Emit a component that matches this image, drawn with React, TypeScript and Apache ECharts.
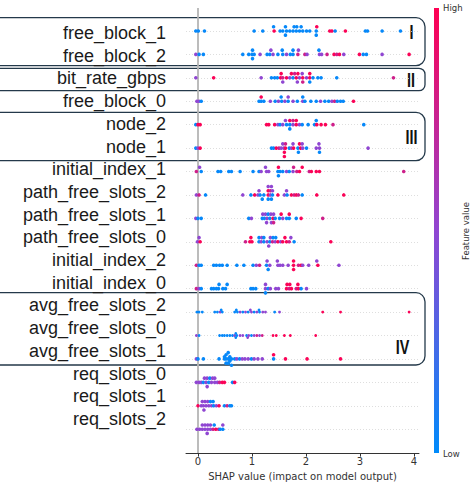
import React, { useEffect, useRef } from "react";
import * as echarts from "echarts";

// ---- data -------------------------------------------------------------
const features = [
  "free_block_1", "free_block_2", "bit_rate_gbps", "free_block_0", "node_2", "node_1",
  "initial_index_1", "path_free_slots_2", "path_free_slots_1", "path_free_slots_0",
  "initial_index_2", "initial_index_0", "avg_free_slots_2", "avg_free_slots_0",
  "avg_free_slots_1", "req_slots_0", "req_slots_1", "req_slots_2",
];
const xTicks = [0, 1, 2, 3, 4];
const numerals = ["I", "II", "III", "IV"];

// feature value codes (0 = low / blue, 1 = high / red)
const B = 0.02, P = 0.5, M = 0.78, R = 0.98;

// [shap value, swarm lane, feature value]
const freeBlock1 = [[-0.04,0,B],[0.006,0,B],[0.12,0,B],[1.04,0,B],[1.2,0,B],[1.41,0,R],[1.52,0,B],[1.57,0,B],[1.64,0,B],[1.7,0,B],[1.76,0,B],[1.82,0,B],[1.88,0,B],[1.94,0,B],[2.01,0,B],[2.07,0,B],[2.19,0,B],[2.44,0,R],[2.48,0,R],[2.54,0,B],[2.73,0,R],[3.1,0,B],[3.14,0,B],[3.41,0,B],[3.75,0,B],
  [1.4,-1,B],[1.62,-1,B],[1.78,-1,B],[1.83,-1,B],[1.91,-1,B],[2.2,-1,R],[1.62,1,B],[2.19,1,B]];
const freeBlock2 = [[-0.04,0,P],[0.02,0,B],[0.1,0,B],[0.83,0,B],[0.94,0,B],[1.0,0,B],[1.04,0,B],[1.15,0,P],[1.28,0,B],[1.33,0,B],[1.39,0,P],[1.48,0,B],[1.57,0,B],[1.64,0,P],[1.71,0,B],[1.76,0,B],[1.85,0,M],[1.98,0,M],[2.02,0,P],[2.25,0,P],[2.29,0,P],[2.39,0,M],[2.52,0,R],[2.57,0,M],[2.62,0,R],[2.7,0,P],[2.99,0,R],[3.06,0,B],[3.12,0,B],[3.41,0,P],[3.91,0,R],
  [1.01,-1,B],[1.35,-1,P],[1.56,-1,B],[1.76,-1,B],[1.86,-1,P],[2.24,-1,B],[1.01,1,B]];
const bitRateGbps = [[-0.04,0,P],[0.29,0,R],[1.17,0,P],[1.36,0,B],[1.42,0,B],[1.47,0,B],[1.53,0,R],[1.57,0,M],[1.64,0,R],[1.7,0,P],[1.76,0,B],[1.82,0,R],[1.88,0,P],[1.94,0,R],[2.01,0,P],[2.07,0,R],[2.13,0,B],[2.22,0,B],[2.28,0,B],[2.57,0,B],[3.62,0,M],
  [1.54,-1,R],[1.73,-1,R],[1.79,-1,M],[1.85,-1,R],[1.93,-1,P],[2.07,-1,R],[1.57,1,P],[1.84,1,P],[1.94,1,M],[2.07,1,B]];
const freeBlock0 = [[-0.02,0,P],[0.02,0,P],[0.06,0,B],[1.13,0,B],[1.17,0,B],[1.22,0,B],[1.34,0,P],[1.43,0,B],[1.49,0,P],[1.55,0,B],[1.61,0,P],[1.67,0,B],[1.76,0,P],[1.84,0,B],[1.94,0,P],[1.98,0,B],[2.09,0,B],[2.19,0,B],[2.27,0,P],[2.35,0,B],[2.42,0,B],[2.48,0,P],[2.53,0,M],[2.58,0,B],[2.64,0,B],[2.69,0,B],[2.88,0,R],
  [1.17,-1,R],[1.54,-1,B],[1.67,-1,P],[1.94,-1,B]];
const node2 = [[-0.04,0,B],[0.0,0,R],[0.04,0,R],[1.27,0,R],[1.31,0,R],[1.42,0,R],[1.48,0,P],[1.52,0,B],[1.57,0,P],[1.64,0,B],[1.7,0,B],[1.76,0,P],[1.82,0,R],[1.88,0,P],[1.93,0,B],[2.04,0,B],[2.16,0,B],[2.2,0,R],[2.28,0,R],[2.36,0,R],[2.5,0,M],[3.07,0,B],
  [1.62,-1,P],[1.7,-1,R],[1.76,-1,M],[1.82,-1,R],[2.19,-1,B],[1.7,1,B]];
const node1 = [[-0.04,0,B],[0.0,0,P],[0.04,0,R],[1.36,0,B],[1.4,0,B],[1.45,0,R],[1.5,0,M],[1.54,0,P],[1.59,0,P],[1.62,0,R],[1.69,0,B],[1.73,0,P],[1.77,0,R],[1.85,0,B],[1.9,0,R],[1.94,0,P],[2.01,0,B],[2.19,0,P],[2.25,0,P],[3.15,0,P],
  [1.57,-1,P],[1.62,-1,M],[1.76,-1,P],[1.88,-1,R],[1.93,-1,P],[2.24,-1,P],[1.6,1,R],[1.86,1,B],[2.25,1,B],[1.6,2,R]];
const initialIndex1 = [[-0.03,0,M],[0.06,0,B],[0.37,0,B],[0.42,0,B],[0.57,0,B],[0.62,0,B],[0.78,0,B],[1.02,0,B],[1.13,0,B],[1.17,0,P],[1.27,0,P],[1.31,0,P],[1.48,0,B],[1.52,0,B],[1.57,0,B],[1.64,0,P],[1.69,0,B],[1.76,0,P],[1.83,0,M],[1.88,0,R],[2.06,0,M],[2.1,0,R],[2.19,0,R],[2.25,0,R],[3.81,0,M],
  [0.03,-1,P],[1.25,-1,P],[1.49,-1,R],[1.77,-1,M],[1.93,-1,R],[1.49,1,B]];
const pathFreeSlots2 = [[-0.03,0,P],[0.02,0,M],[0.14,0,B],[0.83,0,P],[0.98,0,B],[1.05,0,R],[1.11,0,P],[1.15,0,B],[1.22,0,B],[1.3,0,R],[1.34,0,P],[1.38,0,B],[1.48,0,R],[1.6,0,P],[1.65,0,B],[1.73,0,R],[1.78,0,M],[1.82,0,R],[1.86,0,M],[1.93,0,B],[2.2,0,R],[2.7,0,R],
  [1.13,-1,P],[1.3,-1,R],[1.34,-1,M],[1.38,-1,P],[1.64,-1,P],[1.3,-2,P],[1.36,-2,P],[1.19,1,B],[1.3,1,B],[1.36,1,B]];
const pathFreeSlots1 = [[-0.04,0,P],[0.0,0,B],[0.06,0,B],[0.94,0,B],[0.99,0,P],[1.19,0,B],[1.23,0,B],[1.28,0,P],[1.33,0,B],[1.39,0,R],[1.43,0,B],[1.51,0,B],[1.57,0,P],[1.64,0,B],[1.69,0,B],[1.82,0,B],[1.91,0,R],[2.31,0,M],
  [1.2,-1,P],[1.25,-1,P],[1.3,-1,B],[1.35,-1,P],[1.4,-1,P],[1.54,-1,R],[1.69,-1,R],[1.27,1,P],[1.36,1,P],[1.4,1,M]];
const pathFreeSlots0 = [[-0.01,0,P],[0.04,0,R],[0.88,0,M],[0.96,0,R],[1.0,0,R],[1.13,0,B],[1.17,0,P],[1.22,0,B],[1.28,0,P],[1.33,0,B],[1.38,0,M],[1.43,0,P],[1.48,0,R],[1.53,0,P],[1.57,0,R],[1.64,0,R],[1.69,0,M],[1.78,0,B],[2.46,0,R],
  [0.02,-1,P],[0.98,-1,R],[1.13,-1,B],[1.18,-1,P],[1.22,-1,B],[1.34,-1,P],[1.39,-1,B],[1.44,-1,B],[1.61,-1,R],[1.72,-1,P],[1.31,1,P]];
const initialIndex2 = [[-0.03,0,M],[0.02,0,B],[0.06,0,B],[0.29,0,B],[0.34,0,B],[0.4,0,B],[0.45,0,B],[0.54,0,B],[0.72,0,B],[0.85,0,B],[1.02,0,B],[1.08,0,P],[1.14,0,M],[1.27,0,B],[1.33,0,P],[1.48,0,P],[1.52,0,P],[1.57,0,P],[1.67,0,P],[1.77,0,R],[1.86,0,M],[1.91,0,R],[1.94,0,P],[2.05,0,P],[2.22,0,R],[2.61,0,P],
  [1.28,-1,P],[1.47,-1,P],[1.77,-1,R],[2.2,-1,P],[1.3,1,B],[1.77,1,R]];
const initialIndex0 = [[-0.03,0,M],[0.02,0,P],[0.06,0,B],[0.25,0,B],[0.29,0,B],[0.34,0,B],[0.38,0,B],[0.46,0,B],[0.51,0,B],[0.98,0,B],[1.02,0,B],[1.07,0,B],[1.25,0,P],[1.3,0,B],[1.34,0,P],[1.44,0,P],[1.49,0,P],[1.64,0,R],[1.69,0,M],[1.73,0,R],[1.82,0,M],[1.86,0,R],[1.91,0,B],[2.01,0,P],
  [0.39,-1,B],[0.54,-1,B],[1.25,-1,P],[1.65,-1,R],[1.7,-1,R],[1.85,-1,R],[1.25,1,B]];
const avgFreeSlots2 = [[-0.02,0,B],[0.02,0,B],[0.08,0,B],[0.31,0,B],[0.36,0,B],[0.41,0,P],[0.45,0,B],[0.68,0,B],[0.73,0,B],[0.78,0,P],[0.83,0,B],[0.88,0,P],[0.93,0,B],[0.99,0,P],[1.04,0,B],[1.09,0,P],[1.14,0,B],[1.2,0,P],[1.25,0,P],[1.42,0,B],[1.51,0,P],[2.31,0,R],[2.64,0,R],[3.91,0,R],
  [0.43,-0.5,B],[0.71,-0.5,B],[0.97,-0.5,P],[1.13,-0.5,B]];
const avgFreeSlots0 = [[-0.03,0,P],[0.02,0,B],[0.4,0,B],[0.45,0,B],[0.49,0,B],[0.54,0,B],[0.59,0,B],[0.64,0,B],[0.68,0,P],[0.72,0,B],[0.78,0,P],[0.83,0,P],[0.9,0,B],[0.94,0,P],[0.99,0,B],[1.04,0,P],[1.09,0,M],[1.14,0,P],[1.19,0,M],[1.39,0,R],[1.45,0,R],[1.6,0,R],[1.71,0,R],[2.18,0,R],
  [0.7,-0.5,B],[0.7,0.5,B],[0.92,0.5,P]];
const avgFreeSlots1 = [[-0.03,0,P],[0.0,0,B],[0.1,0,B],[0.39,0,B],[0.49,0,B],[0.52,0,B],[0.56,0,B],[0.59,0,B],[0.62,0,B],[0.68,0,B],[0.72,0,P],[0.77,0,B],[0.82,0,P],[0.87,0,P],[0.93,0,P],[0.99,0,B],[1.04,0,P],[1.11,0,P],[1.19,0,P],[1.4,0,B],[1.62,0,R],[2.02,0,R],[2.64,0,R],
  [0.52,-1,B],[0.56,-1.5,B],[0.56,1,B],[0.59,-0.5,B],[0.59,0.5,B],[0.52,1,B],[0.62,1.5,B],[1.4,-1,R],[0.49,-0.5,B]];
const reqSlots0 = [[-0.03,0,P],[0.02,0,P],[0.06,0,P],[0.1,0,B],[0.15,0,P],[0.2,0,B],[0.25,0,P],[0.31,0,P],[0.36,0,P],[0.4,0,M],[0.45,0,R],[0.49,0,R],[0.64,0,B],[0.68,0,R],
  [0.12,-1,P],[0.17,-1,P],[0.22,-1,B],[0.27,-1,P],[0.31,-1,P],[0.17,1,P]];
const reqSlots1 = [[0.0,0,R],[0.06,0,P],[0.1,0,P],[0.15,0,P],[0.2,0,P],[0.25,0,P],[0.29,0,B],[0.34,0,P],[0.39,0,R],[0.49,0,B],[0.54,0,M],[0.59,0,B],[0.62,0,B],
  [0.08,-1,P],[0.13,-1,P],[0.18,-1,P],[0.23,-1,B],[0.28,-1,B],[0.11,1,P]];
const reqSlots2 = [[-0.02,0,P],[0.03,0,P],[0.08,0,P],[0.13,0,P],[0.18,0,P],[0.23,0,P],[0.28,0,M],[0.33,0,R],[0.38,0,M],[0.41,0,B],[0.46,0,B],
  [0.08,-1,P],[0.13,-1,P],[0.18,-1,P],[0.23,-1,P],[0.3,-1,B],[0.46,-1,P],[0.17,1,P]];

const rows = [freeBlock1, freeBlock2, bitRateGbps, freeBlock0, node2, node1, initialIndex1,
  pathFreeSlots2, pathFreeSlots1, pathFreeSlots0, initialIndex2, initialIndex0,
  avgFreeSlots2, avgFreeSlots0, avgFreeSlots1, reqSlots0, reqSlots1, reqSlots2];

const X_MIN = -0.222, X_MAX = 4.093;
const Y_MIN = -0.98, Y_MAX = 18.02;
const LANE = 0.18;
const BLUE = "#008bfb";
const PURPLE = "#9046d2";
const RED = "#ff0052";

export default function App() {
  const ref = useRef<HTMLDivElement>(null);

  useEffect(() => {
    document.body.style.margin = "0";
    const chart = echarts.init(ref.current!, null, { renderer: "svg" });
    const points = rows.flatMap((pts, r) => pts.map(([x, lane, c]) => [x, r + lane * LANE, c]));
    const smallRows = new Set([12, 13]);
    const boxStyle = { fill: "none", stroke: "#24394a", lineWidth: 1.3 };
    const numeralFont = 'bold 20px "Liberation Sans"';
    const smallFont = '8.5px "DejaVu Sans"';
    const numeral = (i: number, x: number, y: number) => ({
      type: "text", x, y, scaleX: 0.72,
      style: { text: numerals[i], font: numeralFont, fill: "#111", textAlign: "center", textVerticalAlign: "middle" },
    });

    chart.setOption({
      animation: false,
      backgroundColor: "#fff",
      grid: [
        { left: 186, right: 54, top: 8, bottom: 32 },
        { left: 174, width: 4, top: 21.65, height: 408.6 },
      ],
      xAxis: [
        {
          type: "value", min: X_MIN, max: X_MAX, gridIndex: 0,
          splitLine: { show: false },
          axisLine: { onZero: false, lineStyle: { color: "#333", width: 1 } },
          axisTick: { customValues: xTicks, length: 3.5, lineStyle: { color: "#333" } },
          axisLabel: { customValues: xTicks, margin: 3, fontSize: 10, fontFamily: "DejaVu Sans", color: "#333" },
          name: "SHAP value (impact on model output)",
          nameLocation: "middle", nameGap: 15,
          nameTextStyle: { fontSize: 10, fontFamily: "DejaVu Sans", color: "#333" },
        },
        { type: "value", gridIndex: 1, show: false },
      ],
      yAxis: [
        { type: "value", min: Y_MIN, max: Y_MAX, inverse: true, gridIndex: 0, show: false },
        {
          type: "category", data: features, inverse: true, gridIndex: 1,
          axisLine: { show: false }, axisTick: { show: false }, splitLine: { show: false },
          axisLabel: { interval: 0, margin: 8, fontSize: 18, fontFamily: "Liberation Sans", color: "#1a1a1a" },
        },
      ],
      visualMap: {
        type: "continuous", show: false, seriesIndex: 2, dimension: 2, min: 0, max: 1,
        inRange: { color: [BLUE, PURPLE, RED] },
      },
      series: [
        {
          type: "lines", coordinateSystem: "cartesian2d", xAxisIndex: 0, yAxisIndex: 0, z: 1,
          silent: true,
          lineStyle: { color: "#d6d6d6", width: 0.8, type: [1, 2], opacity: 1 },
          data: features.map((_, r) => ({ coords: [[X_MIN, r], [X_MAX, r]] })),
        },
        {
          type: "lines", coordinateSystem: "cartesian2d", xAxisIndex: 0, yAxisIndex: 0, z: 1,
          silent: true,
          lineStyle: { color: "#b5b5b5", width: 1.8, type: "solid", opacity: 1 },
          data: [{ coords: [[0, Y_MIN], [0, Y_MAX]] }],
        },
        {
          type: "scatter", data: points, xAxisIndex: 0, yAxisIndex: 0, z: 3,
          symbolSize: (v: number[]) => (smallRows.has(Math.round(v[1])) ? 2.8 : 3.6),
          itemStyle: { opacity: 1 },
        },
      ],
      graphic: [
        { type: "rect", shape: { x: -20, y: 17.7, width: 445, height: 48, r: 9 }, style: boxStyle },
        { type: "rect", shape: { x: -20, y: 68.3, width: 445, height: 22.4, r: 6 }, style: boxStyle },
        { type: "rect", shape: { x: -20, y: 112.3, width: 445, height: 48.4, r: 9 }, style: boxStyle },
        { type: "rect", shape: { x: -20, y: 292.7, width: 445, height: 72.3, r: 9 }, style: boxStyle },
        numeral(0, 411.5, 32.5),
        numeral(1, 411, 80),
        numeral(2, 411.5, 137),
        numeral(3, 402.5, 347),
        {
          type: "rect", shape: { x: 434, y: 8, width: 5, height: 445 },
          style: {
            fill: new echarts.graphic.LinearGradient(0, 0, 0, 1, [
              { offset: 0, color: RED }, { offset: 0.5, color: PURPLE }, { offset: 1, color: BLUE },
            ]),
          },
        },
        { type: "text", x: 443, y: 8, style: { text: "High", font: smallFont, fill: "#333", textAlign: "left", textVerticalAlign: "middle" } },
        { type: "text", x: 443, y: 454, style: { text: "Low", font: smallFont, fill: "#333", textAlign: "left", textVerticalAlign: "middle" } },
        { type: "text", x: 466, y: 231, rotation: Math.PI / 2, style: { text: "Feature value", font: smallFont, fill: "#333", textAlign: "center", textVerticalAlign: "middle" } },
      ],
    });
    return () => chart.dispose();
  }, []);

  return <div ref={ref} style={{ width: 473, height: 486 }} />;
}
